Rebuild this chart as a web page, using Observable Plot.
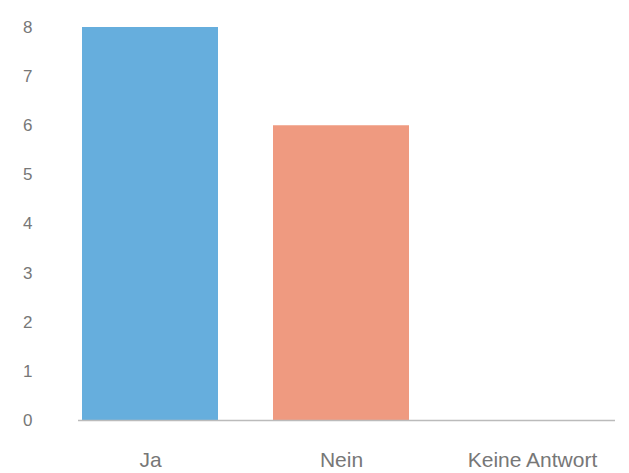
<!DOCTYPE html>
<html><head><meta charset="utf-8">
<script src="https://cdn.jsdelivr.net/npm/d3@7"></script>
<script src="https://cdn.jsdelivr.net/npm/@observablehq/plot@0.6"></script>
<style>body{margin:0;background:#fff;} svg{font-family:"Liberation Sans",Arial,sans-serif;}</style>
</head><body><div id="chart"></div>
<script>
const categories = ["Ja", "Nein", "Keine Antwort"];
const values = [8, 6, 0];
const colors = ["#66aedd", "#ef9a80", "#cccccc"];
const yTicks = [0, 1, 2, 3, 4, 5, 6, 7, 8];

const data = categories.map((c, i) => ({category: c, value: values[i], color: colors[i]}));

const chart = Plot.plot({
  width: 629,
  height: 473,
  marginLeft: 78,
  marginRight: 14,
  marginTop: 27,
  marginBottom: 53,
  style: {fontSize: "21px", color: "#777", background: "#fff"},
  x: {domain: categories, paddingInner: 0.29, paddingOuter: 0.0506, align: 0.207, label: null, tickSize: 0, tickPadding: 32},
  y: {domain: [0, 8], ticks: yTicks, label: null, tickSize: 0, tickPadding: 46},
  marks: [
    Plot.barY(data, {x: "category", y: "value", fill: "color"}),
    Plot.ruleY([0], {stroke: "#bbb", strokeWidth: 1.5})
  ]
});
chart.querySelectorAll('[aria-label="y-axis tick label"] text').forEach(t => t.style.fontSize = "17px");
document.getElementById("chart").appendChild(chart);
</script></body></html>
